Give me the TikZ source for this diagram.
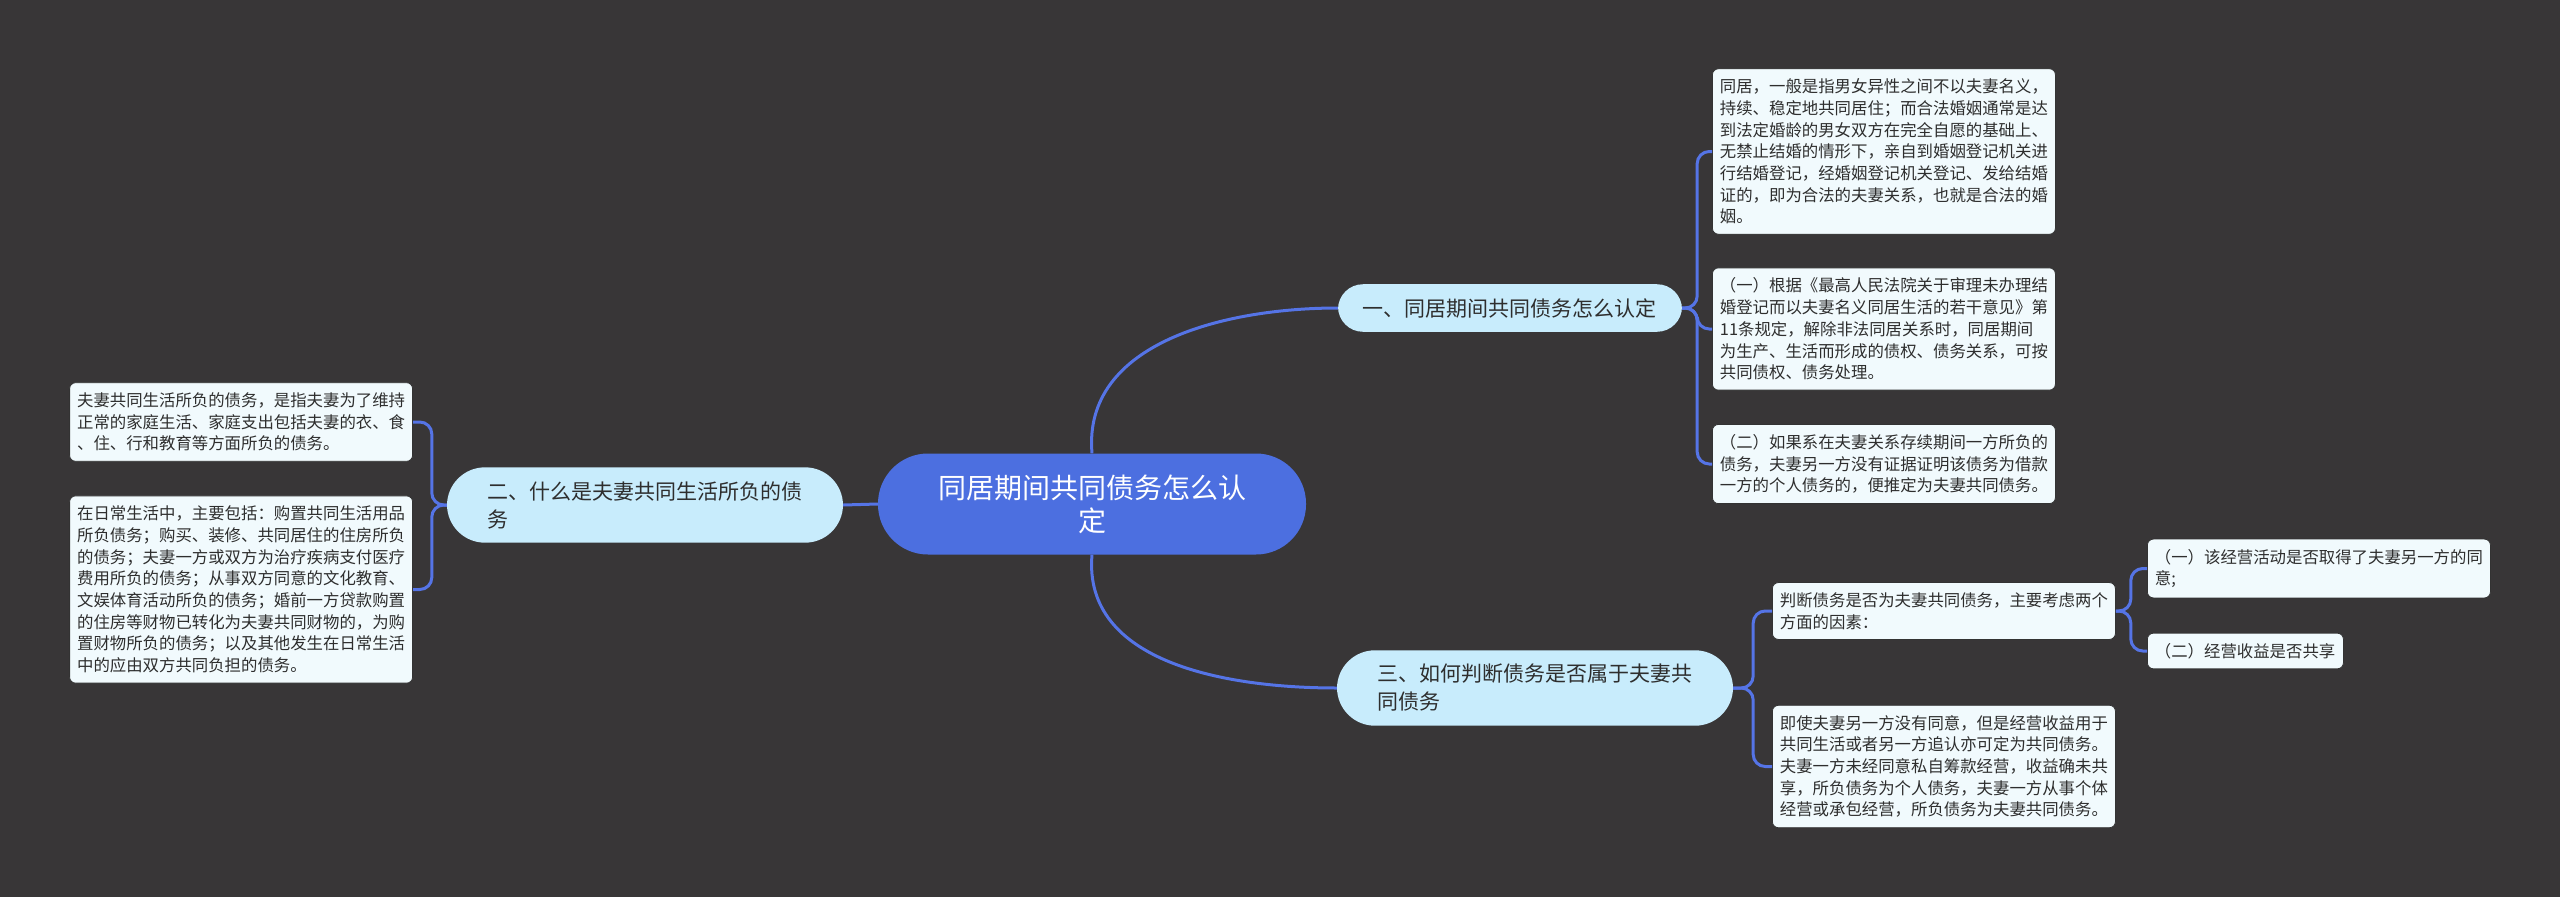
\documentclass[tikz,border=0pt]{standalone}
\usepackage{fontspec}
\setmainfont{Noto Sans CJK SC}
\usetikzlibrary{positioning}
\definecolor{bgcol}{HTML}{383637}
\definecolor{topiccol}{HTML}{4C6FE0}
\definecolor{subcol}{HTML}{C8ECFC}
\definecolor{leafcol}{HTML}{F1FAFD}
\definecolor{linkcol}{HTML}{5574E6}
\definecolor{inkcol}{HTML}{2E2E2E}
\tikzstyle{topic}=[fill=topiccol,draw=none,text=white,rounded corners=50pt,minimum width=428pt,minimum height=101pt,align=center,font=\fontsize{28}{33}\selectfont]
\tikzstyle{subtopic}=[fill=subcol,draw=none,text=inkcol,align=left,text width=316pt,inner xsep=40pt,inner ysep=14pt,rounded corners=38pt,font=\fontsize{21}{28}\selectfont]
\tikzstyle{detail}=[fill=leafcol,draw=black!80,line width=0.8pt,text=inkcol,align=left,text width=328pt,inner xsep=7.5pt,inner ysep=10pt,rounded corners=6pt,font=\fontsize{16.4}{21.7}\selectfont]
\tikzstyle{link}=[draw=linkcol,line width=3pt,rounded corners=12pt]

\begin{document}
\begin{tikzpicture}[x=1pt,y=-1pt]
\fill[bgcol] (0,0) rectangle (2560,897);
\useasboundingbox (0,0) rectangle (2560,897);
        \node[topic] (root) at (1092,504) {同居期间共同债务怎么认\\定};
        \node[subtopic,text width=296pt,inner xsep=24pt,rounded corners=25pt] (b1) at (1510,308) {一、同居期间共同债务怎么认定};
        \node[subtopic] (b2) at (645,505) {二、什么是夫妻共同生活所负的债\\务};
        \node[subtopic] (b3) at (1535,688) {三、如何判断债务是否属于夫妻共\\同债务};

        \node[detail,anchor=west] (l1a) at (1712,151.5) {同居，一般是指男女异性之间不以夫妻名义，\\持续、稳定地共同居住；而合法婚姻通常是达\\到法定婚龄的男女双方在完全自愿的基础上、\\无禁止结婚的情形下，亲自到婚姻登记机关进\\行结婚登记，经婚姻登记机关登记、发给结婚\\证的，即为合法的夫妻关系，也就是合法的婚\\姻。};
        \node[detail,anchor=west] (l1b) at (1712,329) {（一）根据《最高人民法院关于审理未办理结\\婚登记而以夫妻名义同居生活的若干意见》第\\11条规定，解除非法同居关系时，同居期间\\为生产、生活而形成的债权、债务关系，可按\\共同债权、债务处理。};
        \node[detail,anchor=west] (l1c) at (1712,464) {（二）如果系在夫妻关系存续期间一方所负的\\债务，夫妻另一方没有证据证明该债务为借款\\一方的个人债务的，便推定为夫妻共同债务。};

        \node[detail,anchor=east] (l2a) at (413,422) {夫妻共同生活所负的债务，是指夫妻为了维持\\正常的家庭生活、家庭支出包括夫妻的衣、食\\、住、行和教育等方面所负的债务。};
        \node[detail,anchor=east] (l2b) at (413,589.5) {在日常生活中，主要包括：购置共同生活用品\\所负债务；购买、装修、共同居住的住房所负\\的债务；夫妻一方或双方为治疗疾病支付医疗\\费用所负的债务；从事双方同意的文化教育、\\文娱体育活动所负的债务；婚前一方贷款购置\\的住房等财物已转化为夫妻共同财物的，为购\\置财物所负的债务；以及其他发生在日常生活\\中的应由双方共同负担的债务。};

        \node[detail,anchor=west] (l3a) at (1772,611) {判断债务是否为夫妻共同债务，主要考虑两个\\方面的因素：};
        \node[detail,anchor=west] (l3b) at (1772,766.5) {即使夫妻另一方没有同意，但是经营收益用于\\共同生活或者另一方追认亦可定为共同债务。\\夫妻一方未经同意私自筹款经营，收益确未共\\享，所负债务为个人债务，夫妻一方从事个体\\经营或承包经营，所负债务为夫妻共同债务。};
        \node[detail,anchor=west] (l3a1) at (2147,568.5) {（一）该经营活动是否取得了夫妻另一方的同\\意;};
        \node[detail,anchor=west,text width=181pt] (l3a2) at (2147,651) {（二）经营收益是否共享};

        \draw[link,rounded corners=0pt] (root.north) to[out=95,in=180] (b1.west);
        \draw[link,rounded corners=0pt] (root.south) to[out=-95,in=180] (b3.west);
        \draw[link] (root.west) -- (b2.east);
        \foreach \to in {l1a, l1b, l1c}
          \draw[link] (b1.east) -- ++(15,0) |- (\to.west);
        \foreach \to in {l2a, l2b}
          \draw[link] (b2.west) -- ++(-15,0) |- (\to.east);
        \foreach \to in {l3a, l3b}
          \draw[link] (b3.east) -- ++(20,0) |- (\to.west);
        \foreach \to in {l3a1, l3a2}
          \draw[link] (l3a.east) -- ++(15,0) |- (\to.west);
      \end{tikzpicture}
\end{document}
